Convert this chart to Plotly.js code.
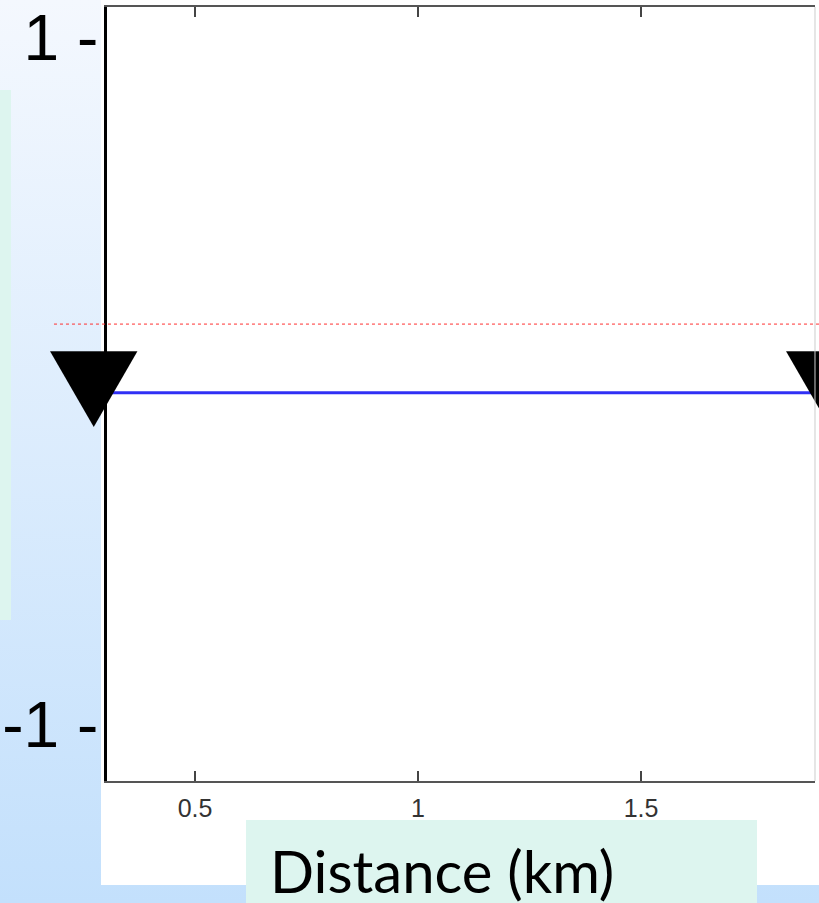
<!DOCTYPE html>
<html><head><meta charset="utf-8">
<script src="https://cdn.plot.ly/plotly-3.0.1.min.js"></script>
<style>
html,body{margin:0;padding:0;width:819px;height:903px;overflow:hidden;background:linear-gradient(to bottom,#F4F8FE 0%,#C3E0FC 100%);}
#chart{width:860px;height:903px;}
</style></head><body><div id="chart"></div>
<script>
// ---- data ----
const xTickVals = [0.5, 1, 1.5];
const xTickText = ['0.5', '1', '1.5'];
const yTickVals = [-1, 1];
const yTickText = ['-1 -', '1 -'];
const blueX = [0.3027, 1.89];
const blueY = [-0.033, -0.033];
const triX = [0.2727, 1.9232];
const triY = [-0.048, -0.048];
const redLevel = [0.167];
const xTitle = 'Distance (km)';
const xRange = [0.3027, 1.89];
const x2Range = [0.15247, 1.9909];
const yRange = [-1.163, 1.09];

const mint = '#DDF5EF';

const traces = [
  {x: blueX, y: blueY, mode: 'lines', line: {color: '#3030F5', width: 3}, hoverinfo: 'skip'},
  {x: triX, y: triY, xaxis: 'x2', mode: 'text', text: triX.map(() => '▼'), textposition: 'middle center',
   textfont: {family: 'Noto Sans CJK SC', size: 93, color: '#000'}, cliponaxis: false, hoverinfo: 'skip'}
];

const layout = {
  width: 860, height: 903,
  margin: {l: 40, r: 0, t: 7, b: 122},
  paper_bgcolor: 'rgba(0,0,0,0)',
  plot_bgcolor: 'rgba(0,0,0,0)',
  showlegend: false,
  xaxis: {domain: [0.08171, 0.94512], range: xRange, tickvals: xTickVals, ticktext: xTickText,
    ticks: 'inside', ticklen: 10, tickwidth: 1.5, tickcolor: '#444', showline: true, linecolor: '#555',
    linewidth: 2, mirror: 'ticks', showgrid: false, zeroline: false, ticklabelstandoff: 4,
    tickfont: {family: 'Liberation Sans, Arial', size: 25, color: '#333'}},
  xaxis2: {domain: [0, 1], range: x2Range, anchor: 'y', visible: false},
  yaxis: {range: yRange, tickvals: yTickVals, ticktext: yTickText, ticks: '', showline: true,
    linecolor: '#000', linewidth: 3, showgrid: false, zeroline: false, ticklabelstandoff: -7,
    tickfont: {family: 'Liberation Sans, Arial', size: 64, color: '#000'}},
  shapes: [
    {type: 'rect', xref: 'paper', yref: 'paper', x0: 0.07439, x1: 1.0, y0: -0.1344, y1: 1.02,
     fillcolor: '#FFFFFF', line: {width: 0}, layer: 'below'},
    {type: 'rect', xref: 'paper', yref: 'paper', x0: -0.06, x1: -0.03537, y0: 0.208, y1: 0.8928,
     fillcolor: mint, line: {width: 0}, layer: 'below'},
    {type: 'rect', xref: 'paper', yref: 'paper', x0: 0.25122, x1: 0.87439, y0: -0.0504, y1: -0.2,
     fillcolor: mint, line: {width: 0}, layer: 'below'},
    {type: 'line', xref: 'paper', yref: 'paper', x0: 0.94512, x1: 0.94512, y0: 0, y1: 1,
     line: {color: '#CCCCCC', width: 1}},
    {type: 'line', xref: 'paper', yref: 'y', x0: 0.01707, x1: 1.0, y0: redLevel[0], y1: redLevel[0],
     line: {color: '#FF3030', width: 1, dash: 'dot'}}
  ],
  annotations: [
    {xref: 'paper', yref: 'paper', x: 0.2780, y: -0.115, xanchor: 'left', yanchor: 'middle',
     text: xTitle, showarrow: false, font: {family: 'Lato', size: 58, color: '#000'}}
  ]
};

Plotly.newPlot('chart', traces, layout, {displayModeBar: false, staticPlot: true});
</script></body></html>
